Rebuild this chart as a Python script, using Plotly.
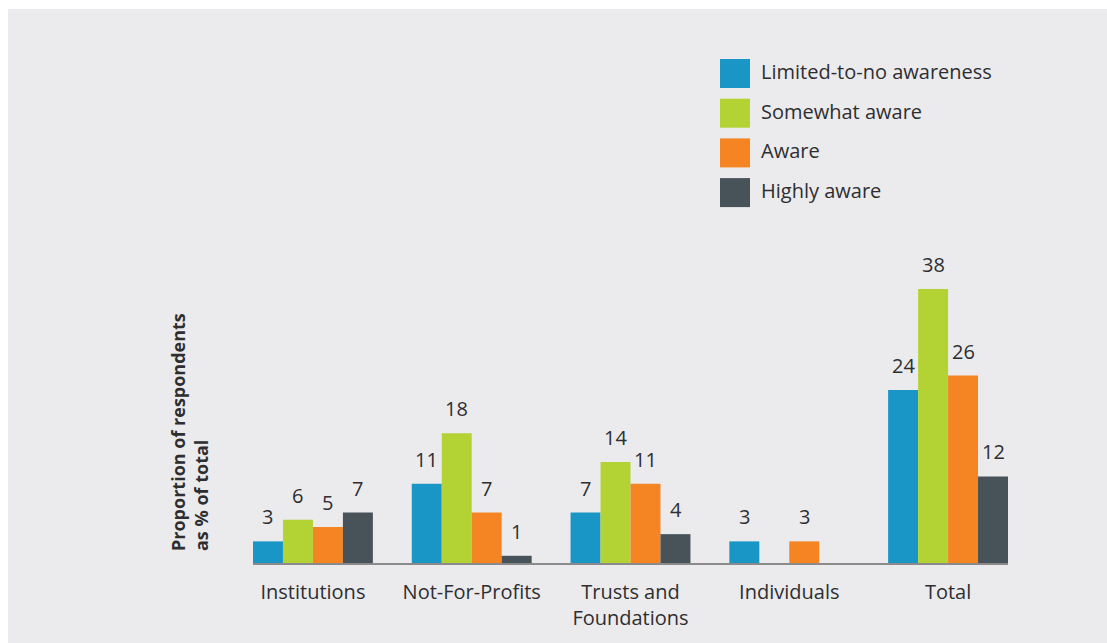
import plotly.graph_objects as go

# Awareness survey: share of respondents by respondent type
categories = ["Institutions", "Not-For-Profits", "Trusts and<br>Foundations", "Individuals", "Total"]
series_names = ["Limited-to-no awareness", "Somewhat aware", "Aware", "Highly aware"]
limited = [3, 11, 7, 3, 24]
somewhat = [6, 18, 14, None, 38]
aware = [5, 7, 11, 3, 26]
highly = [7, 1, 4, None, 12]

series_values = [limited, somewhat, aware, highly]
colors = ["#1a96c6", "#b3d335", "#f58523", "#475259"]

W, H = 1107, 643
BG = "#ebebed"
TEXT = "#2e2e30"
FONT = "Open Sans"
FS = 20

# plot area in pixels
L, R, T, B = 253, 99, 275, 80
PW, PH = W - L - R, H - T - B
BAR_PX = 30


def px_x(p):
    return (p - L) / PW


def px_y(p):
    return (H - B - p) / PH


fig = go.Figure()
for name, vals, col in zip(series_names, series_values, colors):
    fig.add_trace(go.Bar(
        x=categories, y=vals, name=name, marker=dict(color=col, line=dict(width=0)),
        showlegend=False,
    ))

annotations = []
# value labels above each bar
for i, vals in enumerate(series_values):
    offset = (i - 1.5) * BAR_PX
    for cat, v in zip(categories, vals):
        if v is None:
            continue
        annotations.append(dict(
            x=cat, y=v, xref="x", yref="y", text=str(v), showarrow=False,
            xshift=offset, yshift=9, yanchor="bottom", xanchor="center",
            font=dict(family=FONT, size=FS, color=TEXT),
        ))

# legend: large colour swatches with labels
shapes = [dict(type="rect", xref="paper", yref="paper", layer="below",
               x0=px_x(8), x1=px_x(W + 5), y0=px_y(H + 5), y1=px_y(9),
               fillcolor=BG, line=dict(width=0))]
for i, (name, col) in enumerate(zip(series_names, colors)):
    top = 59 + i * 39.7
    shapes.append(dict(type="rect", xref="paper", yref="paper",
                       x0=px_x(720), x1=px_x(750), y0=px_y(top + 29), y1=px_y(top),
                       fillcolor=col, line=dict(width=0)))
    annotations.append(dict(
        x=px_x(759), y=px_y(top + 12.5), xref="paper", yref="paper", text=name,
        showarrow=False, xanchor="left", yanchor="middle",
        font=dict(family=FONT, size=FS, color=TEXT),
    ))

# y-axis title
annotations.append(dict(
    x=px_x(189), y=px_y(553), xref="paper", yref="paper",
    text="<b>Proportion of respondents</b><br><b>as % of total</b>",
    textangle=-90, showarrow=False, xanchor="center", yanchor="bottom", align="left",
    font=dict(family="Open Sans", size=18, color=TEXT),
))

fig.update_layout(
    width=W, height=H,
    margin=dict(l=L, r=R, t=T, b=B, pad=0),
    paper_bgcolor="white", plot_bgcolor=BG,
    barmode="group", bargap=0.245, bargroupgap=0,
    annotations=annotations, shapes=shapes,
    font=dict(family=FONT, size=FS, color=TEXT),
)
fig.update_xaxes(
    range=[-0.3775, 4.3775], showline=True, linecolor="#8a8a8a", linewidth=2,
    ticks="outside", ticklen=10, tickcolor="rgba(0,0,0,0)",
    tickfont=dict(family=FONT, size=FS, color=TEXT), showgrid=False, zeroline=False,
)
fig.update_yaxes(range=[0, PH / 7.21], visible=False, showgrid=False, zeroline=False)

fig.write_html("out.html")
